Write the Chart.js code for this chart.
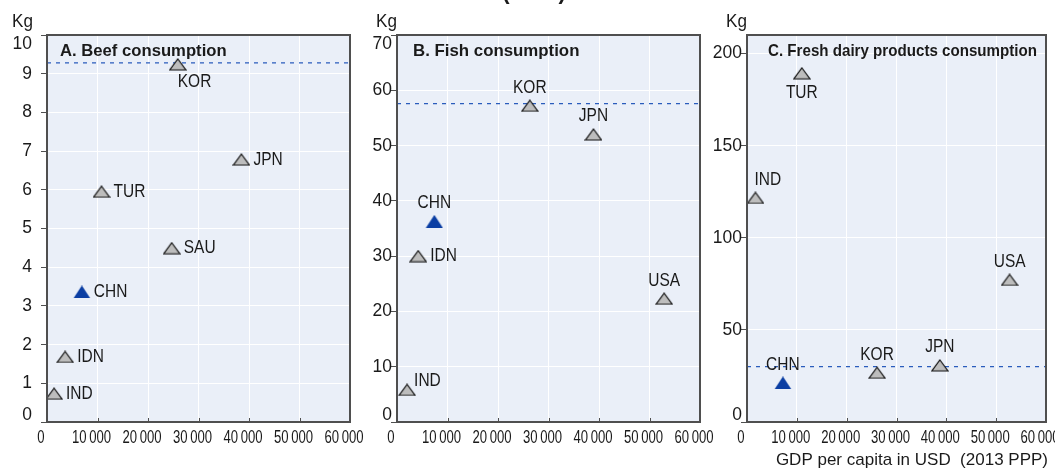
<!DOCTYPE html>
<html>
<head>
<meta charset="utf-8">
<script src="https://cdn.jsdelivr.net/npm/chart.js@4.4.0/dist/chart.umd.min.js"></script>
<style>
  body { margin: 0; background: #fff; }
  #wrap { position: relative; width: 1055px; height: 472px; overflow: hidden; }
  #wrap canvas { position: absolute; top: 0; }
</style>
</head>
<body>
<div id="wrap">
  <canvas id="beef" width="372" height="472" style="left:0px"></canvas>
  <canvas id="fish" width="362" height="472" style="left:355px"></canvas>
  <canvas id="dairy" width="350" height="472" style="left:705px"></canvas>
</div>
<script>
// x axis: GDP per capita, USD (2013 PPP)
const gdpMin = 0;
const gdpMax = 60000;
const gdpStep = 10000;

// A. Beef consumption (kg)
const beefCountries = ['KOR', 'JPN', 'TUR', 'SAU', 'CHN', 'IDN', 'IND'];
const beefGdp = [25900, 38500, 10800, 24700, 6900, 3600, 1400];
const beefKg = [9.24, 6.78, 5.95, 4.49, 3.36, 1.68, 0.73];
const beefRef = 9.28;

// B. Fish consumption (kg)
const fishCountries = ['KOR', 'JPN', 'CHN', 'IDN', 'USA', 'IND'];
const fishGdp = [26300, 38900, 7400, 4200, 52900, 2000];
const fishKg = [57.2, 52.0, 36.3, 30.0, 22.3, 5.8];
const fishRef = 57.6;

// C. Fresh dairy products consumption (kg)
const dairyCountries = ['TUR', 'IND', 'USA', 'KOR', 'JPN', 'CHN'];
const dairyGdp = [11000, 1700, 52700, 26100, 38700, 7200];
const dairyKg = [189.2, 121.6, 77.1, 26.7, 30.7, 21.2];
const dairyRef = 30.1;

const FONT = '"Liberation Sans", Arial, sans-serif';
const INK = '#1a1a1a';
const FRAME = '#4f4f4f';

function fmt(v) {
    return String(v).replace(/\B(?=(\d{3})+(?!\d))/g, '\u2009');
}

// text squeezed horizontally, to get the narrow look of the original
function txt(c, s, x, y, align, font, sx) {
    c.save();
    c.font = font;
    c.textAlign = align;
    c.textBaseline = 'middle';
    c.translate(x, y);
    c.scale(sx, 1);
    c.fillText(s, 0, 0);
    c.restore();
}

function makeTri(fill, stroke) {
    const cv = document.createElement('canvas');
    cv.width = 18;
    cv.height = 13;
    const c = cv.getContext('2d');
    c.beginPath();
    if (stroke) {
        c.moveTo(9, 1); c.lineTo(17, 12); c.lineTo(1, 12);
    } else {
        c.moveTo(9, 0); c.lineTo(17.5, 13); c.lineTo(0.5, 13);
    }
    c.closePath();
    c.fillStyle = fill;
    c.fill();
    if (stroke) {
        c.strokeStyle = stroke;
        c.lineWidth = 1.2;
        c.stroke();
    }
    return cv;
}
const grayTri = makeTri('#bdbdbd', '#111');
const blueTri = makeTri('#0b3ea3', null);

// where each point's label sits: r = right, a = above, b = below,
// bl = below (left aligned), al = above (left aligned), ar = above right
const panels = [
    {
        canvas: 'beef', title: 'A. Beef consumption', countries: beefCountries,
        gdp: beefGdp, kg: beefKg, ref: beefRef, yMax: 10, yStep: 1,
        place: ['bl', 'r', 'r', 'r', 'r', 'r', 'r'],
        left: 47, right: 22, titleDx: 13, titleSx: 0.98, unitX: 33, labelGap: 15
    },
    {
        canvas: 'fish', title: 'B. Fish consumption', countries: fishCountries,
        gdp: fishGdp, kg: fishKg, ref: fishRef, yMax: 70, yStep: 10,
        place: ['a', 'a', 'a', 'r', 'a', 'ar'],
        left: 42, right: 17, titleDx: 16, titleSx: 0.99, unitX: 42, labelGap: 5, topNote: '(2013)'
    },
    {
        canvas: 'dairy', title: 'C. Fresh dairy products consumption', countries: dairyCountries,
        gdp: dairyGdp, kg: dairyKg, ref: dairyRef, yMax: 210, yStep: 50,
        place: ['b', 'al', 'a', 'a', 'a', 'a'],
        left: 42, right: 5, titleDx: 21, titleSx: 0.89, unitX: 42, labelGap: 5,
        xTitle: 'GDP per capita in USD  (2013 PPP)'
    }
];

function makeDecor(panel) {
    return {
        id: 'decor',
        beforeDraw(chart) {
            const a = chart.chartArea, c = chart.ctx;
            c.save();
            c.fillStyle = '#eaeff8';
            c.fillRect(a.left, a.top, a.right - a.left, a.bottom - a.top);
            c.restore();
        },
        afterDraw(chart) {
            const a = chart.chartArea, c = chart.ctx;
            const xs = chart.scales.x, ys = chart.scales.y;
            c.save();
            c.fillStyle = INK;

            // x ticks: short inner marks and narrow labels
            c.strokeStyle = FRAME;
            c.lineWidth = 1;
            xs.ticks.forEach(t => {
                const px = xs.getPixelForValue(t.value);
                const rx = Math.round(px) + 0.5;
                c.beginPath();
                c.moveTo(rx, a.bottom);
                c.lineTo(rx, a.bottom - 4);
                c.stroke();
                txt(c, fmt(t.value), px - 6, 438, 'center', '19px ' + FONT, 0.69);
            });

            // frame
            c.lineWidth = 2;
            c.strokeRect(a.left, a.top, a.right - a.left, a.bottom - a.top);

            // y tick labels, kept inside the axis span
            ys.ticks.forEach(t => {
                let py = ys.getPixelForValue(t.value);
                py = Math.min(Math.max(py, a.top + 9), a.bottom - 7);
                txt(c, fmt(t.value), a.left - panel.labelGap, py, 'right', '18px ' + FONT, 0.97);
            });
            txt(c, 'Kg', panel.unitX, 22, 'right', '18px ' + FONT, 0.95);

            // panel title
            txt(c, panel.title, a.left + panel.titleDx, a.top + 16, 'left', 'bold 17px ' + FONT, panel.titleSx);

            // country labels
            const meta = chart.getDatasetMeta(0);
            meta.data.forEach((pt, i) => {
                const p = panel.place[i];
                let x = pt.x, y = pt.y, align = 'center';
                if (p === 'r') { x += 12; align = 'left'; }
                else if (p === 'a') { y -= 18; }
                else if (p === 'b') { y += 20; }
                else if (p === 'bl') { y += 18; align = 'left'; }
                else if (p === 'al') { y -= 18; x -= 1; align = 'left'; }
                else if (p === 'ar') { y -= 9; x += 7; align = 'left'; }
                txt(c, panel.countries[i], x, y, align, '18px ' + FONT, 0.86);
            });

            if (panel.xTitle) {
                txt(c, panel.xTitle, a.right + 2, 460, 'right', '17px ' + FONT, 1);
            }
            if (panel.topNote) {
                c.font = 'bold 22px ' + FONT;
                c.textAlign = 'center';
                c.textBaseline = 'alphabetic';
                c.fillText(panel.topNote, 534 - 355, -1.5);
            }
            c.restore();
        }
    };
}

panels.forEach(panel => {
    const ctx = document.getElementById(panel.canvas).getContext('2d');
    new Chart(ctx, {
        type: 'scatter',
        data: {
            datasets: [
                {
                    label: panel.title,
                    data: panel.gdp.map((g, i) => ({ x: g, y: panel.kg[i] })),
                    pointStyle: c => panel.countries[c.dataIndex] === 'CHN' ? blueTri : grayTri,
                    pointRadius: 8,
                    pointHoverRadius: 8,
                    order: 1
                },
                {
                    type: 'line',
                    label: 'reference',
                    data: [{ x: gdpMin, y: panel.ref }, { x: gdpMax, y: panel.ref }],
                    borderColor: '#2a5cbc',
                    borderWidth: 1.3,
                    borderDash: [4, 5],
                    pointRadius: 0,
                    fill: false,
                    order: 2
                }
            ]
        },
        options: {
            responsive: false,
            animation: false,
            events: [],
            layout: { padding: { top: 35, right: panel.right, bottom: 0, left: 0 } },
            plugins: { legend: { display: false }, tooltip: { enabled: false } },
            scales: {
                x: {
                    type: 'linear',
                    min: gdpMin,
                    max: gdpMax,
                    ticks: { stepSize: gdpStep, display: false },
                    grid: { color: '#ffffff', lineWidth: 1, drawTicks: false },
                    border: { display: false },
                    afterFit(s) { s.height = 50; s.paddingLeft = 0; s.paddingRight = 0; }
                },
                y: {
                    type: 'linear',
                    min: 0,
                    max: panel.yMax,
                    ticks: { stepSize: panel.yStep, includeBounds: false, display: false },
                    grid: { color: '#ffffff', lineWidth: 1, tickColor: FRAME, tickLength: 6 },
                    border: { display: false },
                    afterFit(s) { s.width = panel.left; s.paddingTop = 0; s.paddingBottom = 0; }
                }
            }
        },
        plugins: [makeDecor(panel)]
    });
});
</script>
</body>
</html>
